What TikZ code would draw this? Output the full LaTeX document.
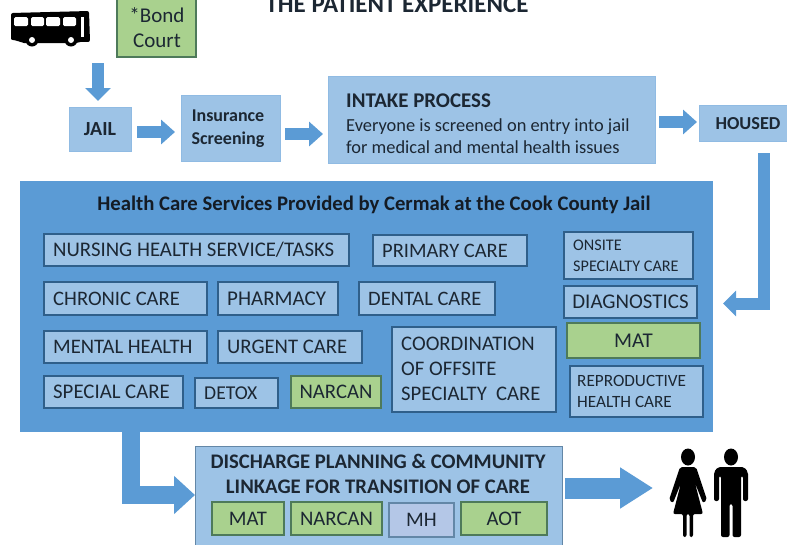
\documentclass[tikz,border=0pt]{standalone}
\usepackage{fontspec}
\setmainfont{Carlito}
\usetikzlibrary{arrows.meta}
\definecolor{panel}{HTML}{5B9BD5}
\definecolor{lite}{HTML}{9DC3E6}
\definecolor{grn}{HTML}{A9D18E}
\definecolor{mh}{HTML}{B4C7E7}
\definecolor{edge}{HTML}{2F5F8A}
\definecolor{gedge}{HTML}{4E7A5A}
\definecolor{ink}{HTML}{1C2733}
\tikzset{
  box/.style={draw=edge,line width=1.2pt,fill=lite,text=ink,inner sep=0pt,outer sep=0pt},
  plain/.style={box,line width=1pt,draw=lite!80!panel},
  green/.style={box,fill=grn,draw=gedge},
  lbl/.style={align=left,font=\fontsize{#1}{23}\selectfont},
  flow/.style={draw=panel,line width=#1,line join=miter},
  tipa/.style={-{Triangle[length=14pt,width=24pt,fill=panel]}},
}
% name, x1, y1, x2, y2, style, text
\newcommand\bx[7]{%
  \pgfmathsetmacro\bw{#4-#2}\pgfmathsetmacro\bh{#5-#3}%
  \pgfmathsetmacro\cx{(#2+#4)/2}\pgfmathsetmacro\cy{(#3+#5)/2}%
  \node[#6,minimum width=\bw pt,minimum height=\bh pt] (#1) at (\cx,\cy) {#7};}
% left-aligned text at box left
\newcommand\lt[3]{\node[anchor=west,inner sep=0pt,text=ink,lbl=#3] at ([xshift=9pt]#1.west) {#2};}
\begin{document}
\begin{tikzpicture}[x=1pt,y=-1pt]
\useasboundingbox (0,0) rectangle (787,544);
\clip (0,0) rectangle (787,544);
% bus
\node[minimum width=80pt,minimum height=33pt,inner sep=0pt] (bus) at (50,28) {};
\fill[black,rounded corners=2pt] (11,13) -- (89,11) -- (90,42) -- (11,40) -- cycle;
\fill[black] (11,30) -- (11,39) -- (24,43) -- (76,43) -- (89,40) -- (89,30) -- cycle;
\foreach \a/\b in {14/28,31/44,46/60,63/76}{\fill[white,rounded corners=1.5pt] (\a,17) rectangle (\b,26);}
\fill[white] (81,17) rectangle (84,37);
\foreach \c in {32,71}{\fill[black] (\c,40) circle (6.5pt);\fill[white] (\c,40) circle (3pt);}
% title
\node[font=\bfseries\fontsize{25}{28}\selectfont,text=ink,inner sep=0pt] (title) at (397,4) {THE PATIENT EXPERIENCE};
% top row
\bx{bond}{117}{-3}{196}{57}{green}{}
\node[align=center,font=\fontsize{21}{25}\selectfont,text=ink,inner sep=0pt] (bondt) at (157,28) {{*}Bond\\Court};
\bx{jail}{69}{107}{131}{151}{plain}{\fontsize{20}{24}\selectfont\bfseries JAIL}
\bx{ins}{181}{95}{280}{161}{plain}{}
\node[align=center,text=ink,inner sep=0pt,font=\bfseries\fontsize{18}{23}\selectfont] (inst) at (228,129) {Insurance\\Screening};
\bx{intake}{328}{76}{655}{163}{plain}{}
\node[anchor=west,inner sep=0pt,text=ink,font=\bfseries\fontsize{20.9}{25}\selectfont] (intt) at (346,101) {INTAKE PROCESS};
\node[anchor=west,inner sep=0pt,text=ink,align=left,font=\fontsize{18.4}{22.5}\selectfont] (intd) at (346,136) {Everyone is screened on entry into jail\\for medical and mental health issues};
\bx{housed}{699}{105}{795}{141}{plain}{}
\node[text=ink,inner sep=0pt,font=\bfseries\fontsize{18.3}{22}\selectfont] (houst) at (748,124) {HOUSED};
% panel
\bx{care}{20}{181}{712}{431}{box,line width=1pt,fill=panel,draw=panel}{}
\node[text=ink!70!black,inner sep=0pt,font=\bfseries\fontsize{20.7}{25}\selectfont] (caret) at (374,205) {Health Care Services Provided by Cermak at the Cook County Jail};
\bx{nursing}{44}{234}{349}{266}{box}{}\lt{nursing}{NURSING HEALTH SERVICE/TASKS}{20.8}
\bx{primary}{373}{235}{527}{266}{box}{}\lt{primary}{PRIMARY CARE}{20.5}
\bx{onsite}{564}{232}{693}{279}{box}{}
\node[anchor=west,inner sep=0pt,text=ink,align=left,font=\fontsize{16.2}{21}\selectfont] (onst) at (573,256) {ONSITE\\SPECIALTY CARE};
\bx{chronic}{44}{282}{207}{315}{box}{}\lt{chronic}{CHRONIC CARE}{20.6}
\bx{pharmacy}{218}{282}{338}{315}{box}{}\lt{pharmacy}{PHARMACY}{21}
\bx{dental}{359}{282}{495}{315}{box}{}\lt{dental}{DENTAL CARE}{20.5}
\bx{diag}{564}{286}{697}{318}{box}{\fontsize{20.9}{24}\selectfont DIAGNOSTICS}
\bx{matp}{567}{323}{700}{358}{green}{\fontsize{21}{25}\selectfont MAT}
\bx{mental}{44}{331}{207}{363}{box}{}\lt{mental}{MENTAL HEALTH}{20.6}
\bx{urgent}{218}{331}{362}{363}{box}{}\lt{urgent}{URGENT CARE}{20.7}
\bx{coord}{392}{327}{556}{412}{box}{}
\node[anchor=west,inner sep=0pt,text=ink,align=left,font=\fontsize{20.7}{25}\selectfont] (coot) at (401,369) {COORDINATION\\OF OFFSITE\\SPECIALTY\ \ CARE};
\bx{special}{44}{376}{183}{408}{box}{}\lt{special}{SPECIAL CARE}{20.8}
\bx{detox}{195}{378}{278}{408}{box}{}\lt{detox}{DETOX}{19.6}
\bx{narp}{291}{376}{381}{408}{green}{\fontsize{20.7}{25}\selectfont NARCAN}
\bx{repro}{570}{366}{703}{417}{box}{}
\node[anchor=west,inner sep=0pt,text=ink,align=left,font=\fontsize{17.2}{21}\selectfont] (rept) at (577,391) {REPRODUCTIVE\\HEALTH CARE};
% discharge
\bx{disch}{195}{446}{562}{548}{box,line width=1pt,draw=edge!75}{}
\node[inner sep=0pt,text=ink,align=center,font=\bfseries\fontsize{20.7}{25}\selectfont] (dist) at (378,474) {DISCHARGE PLANNING \& COMMUNITY\\LINKAGE FOR TRANSITION OF CARE};
\bx{matd}{212}{502}{284}{535}{green}{\fontsize{20.7}{25}\selectfont MAT}
\bx{nard}{291}{502}{382}{535}{green}{\fontsize{20.7}{25}\selectfont NARCAN}
\bx{mhd}{389}{503}{454}{537}{box,fill=mh,draw=edge!75}{\fontsize{20.7}{25}\selectfont MH}
\bx{aot}{461}{502}{547}{535}{green}{\fontsize{20.7}{25}\selectfont AOT}
% people
\node[minimum width=75pt,minimum height=88pt,inner sep=0pt] (people) at (708,492) {};
% woman
\fill[black] (688,457) ellipse (7pt and 8.5pt);
\fill[black,rounded corners=2pt] (680,467) -- (696,467) -- (707,500) -- (703,503) -- (695,483) -- (703,514) -- (693,514) -- (693,537) -- (689.5,537) -- (689.5,514) -- (686.5,514) -- (686.5,537) -- (683,537) -- (683,514) -- (673,514) -- (681,483) -- (673,503) -- (669,500) -- cycle;
% man
\fill[black] (731,457) ellipse (7pt and 8.5pt);
\fill[black,rounded corners=2pt] (718,467) -- (744,467) -- (748,472) -- (748,501) -- (743,501) -- (743,476) -- (741,476) -- (741,537) -- (732.5,537) -- (732.5,504) -- (729.5,504) -- (729.5,537) -- (721,537) -- (721,476) -- (719,476) -- (719,501) -- (714,501) -- (714,472) -- cycle;
% connectors
\coordinate (busdrop) at (98,63);
\coordinate (jailtop) at (98,101);
\draw[flow=12pt,-{Triangle[length=13pt,width=25pt,fill=panel]}] (busdrop) -- (jailtop);
\coordinate (a1) at (137,132);\coordinate (a2) at (175,132);
\draw[flow=12pt,tipa] (a1) -- (a2);
\coordinate (a3) at (285,134);\coordinate (a4) at (323,134);
\draw[flow=12pt,tipa] (a3) -- (a4);
\coordinate (a5) at (659,122);\coordinate (a6) at (697,122);
\draw[flow=12pt,tipa] (a5) -- (a6);
\coordinate (hd) at (763.5,153);
\coordinate (hc) at (763.5,303.5);
\coordinate (he) at (723,303.5);
\draw[flow=12pt,-{Triangle[length=13pt,width=25pt,fill=panel]}] (hd) -- (hc) -- (he);
\coordinate (cd) at (131,431);
\coordinate (cc) at (131,495);
\draw[flow=18pt,-{Triangle[length=21pt,width=37pt,fill=panel]}] (cd) -- (cc) -- (disch.west |- cc);
\coordinate (d1) at (565,488);\coordinate (d2) at (653,488);
\draw[flow=21pt,-{Triangle[length=33pt,width=39pt,fill=panel]}] (d1) -- (d2);
\end{tikzpicture}
\end{document}
